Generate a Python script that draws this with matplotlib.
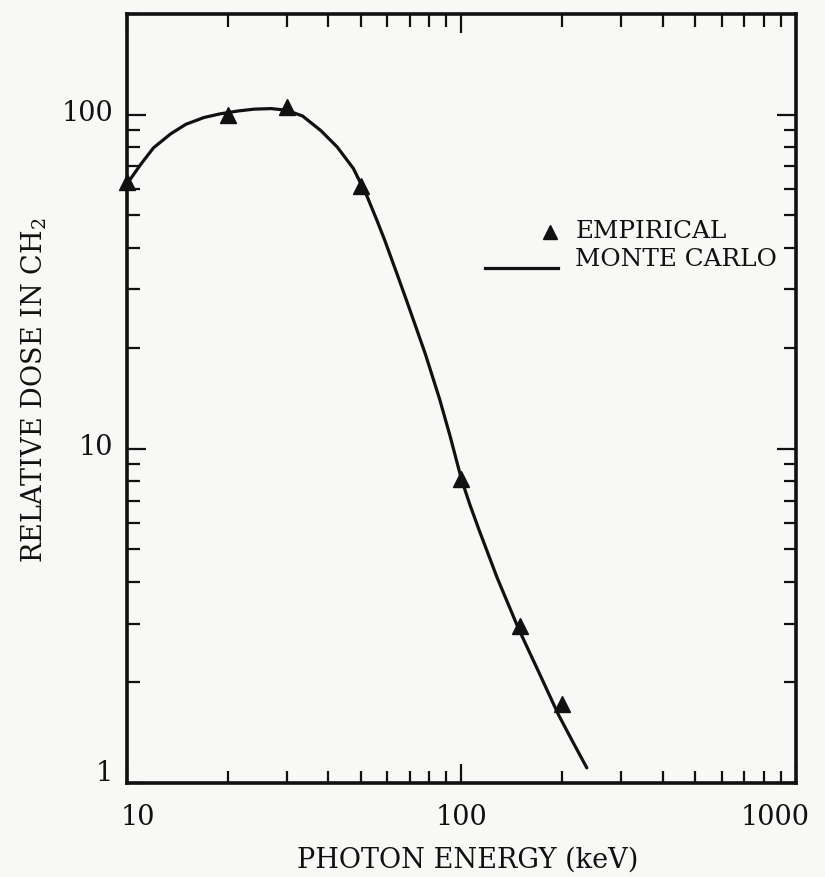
import numpy as np
import matplotlib.pyplot as plt
import matplotlib.transforms as mtransforms
from matplotlib.ticker import LogLocator, NullFormatter

plt.rcParams['font.family'] = ['DejaVu Serif']
plt.rcParams['mathtext.default'] = 'regular'

# measured points (photon energy in keV, relative dose)
empirical_energy = [10, 20, 30, 50, 100, 150, 200]
empirical_dose = [63, 100, 105, 61, 8.1, 2.95, 1.72]

# monte carlo curve
mc_energy = [10, 11, 12, 13.5, 15, 17, 19, 21.5, 24, 27, 30, 33.5, 38, 42.5,
             47.5, 52, 56, 59, 64, 68.5, 73, 78, 86, 92.5, 100, 106, 113,
             128, 148, 172, 195, 215, 237]
mc_dose = [62, 71, 79.5, 87.5, 93.5, 98, 100.5, 102.5, 103.8, 104.2, 103,
           99, 89.5, 80, 69, 57.5, 48, 42, 33.6, 27.8, 23.2, 19.2, 14.1,
           10.9, 8.1, 6.8, 5.7, 4.1, 2.9, 2.1, 1.6, 1.33, 1.11]

xticks = [10, 100, 1000]
xtick_labels = ['10', '100', '1000']
yticks = [1, 10, 100]
ytick_labels = ['1', '10', '100']

ink = '#111111'
paper = '#f8f8f6'
fs = 19.5
fs_key = 17.8

fig = plt.figure(figsize=(8.25, 8.77), dpi=100, facecolor=paper)
ax = fig.add_axes([0.1539, 0.1072, 0.8109, 0.8769], facecolor=paper)

ax.plot(mc_energy, mc_dose, color=ink, lw=2.3, solid_capstyle='round',
        solid_joinstyle='round', zorder=2)
ax.plot(empirical_energy, empirical_dose, ls='none', marker='^', ms=11,
        color=ink, zorder=3, clip_on=False)

ax.set_xscale('log')
ax.set_yscale('log')
ax.set_xlim(10, 1000)
ax.set_ylim(1, 200)

ax.set_xticks(xticks, xtick_labels)
ax.set_yticks(yticks, ytick_labels)
for axis in (ax.xaxis, ax.yaxis):
    axis.set_minor_locator(LogLocator(base=10, subs=np.arange(2, 10)))
    axis.set_minor_formatter(NullFormatter())

ax.tick_params(which='both', direction='in', top=True, right=True,
               color=ink, labelcolor=ink, labelsize=fs, width=1.6)
ax.tick_params(which='major', length=14)
ax.tick_params(which='minor', length=9)
ax.tick_params(axis='x', which='major', pad=15)
ax.tick_params(axis='y', which='major', pad=10)

for s in ax.spines.values():
    s.set_linewidth(2.6)
    s.set_color(ink)

# nudge end tick labels the way they were typed
for tick, dx in zip(ax.xaxis.get_major_ticks(), [8, 0, -15]):
    off = mtransforms.ScaledTranslation(dx / 72, 0, fig.dpi_scale_trans)
    tick.label1.set_transform(tick.label1.get_transform() + off)
for tick, dy in zip(ax.yaxis.get_major_ticks(), [9, 3, 3]):
    off = mtransforms.ScaledTranslation(0, dy / 72, fig.dpi_scale_trans)
    tick.label1.set_transform(tick.label1.get_transform() + off)

ax.set_xlabel('PHOTON ENERGY (keV)', fontsize=fs, color=ink)
ax.xaxis.set_label_coords(0.51, -0.083)
ax.set_ylabel('RELATIVE DOSE IN CH$_2$', fontsize=fs, color=ink)
ax.yaxis.set_label_coords(-0.117, 0.511)

# key
ax.plot([0.632], [0.7165], transform=ax.transAxes, marker='^', ms=10,
        color=ink, ls='none')
ax.text(0.670, 0.7165, 'EMPIRICAL', transform=ax.transAxes, fontsize=fs_key,
        color=ink, va='center', ha='left')
ax.plot([0.535, 0.644], [0.670, 0.670], transform=ax.transAxes, color=ink,
        lw=2.3)
ax.text(0.670, 0.681, 'MONTE CARLO', transform=ax.transAxes, fontsize=fs_key,
        color=ink, va='center', ha='left')

fig.savefig('out.png', dpi=100, facecolor=paper)
